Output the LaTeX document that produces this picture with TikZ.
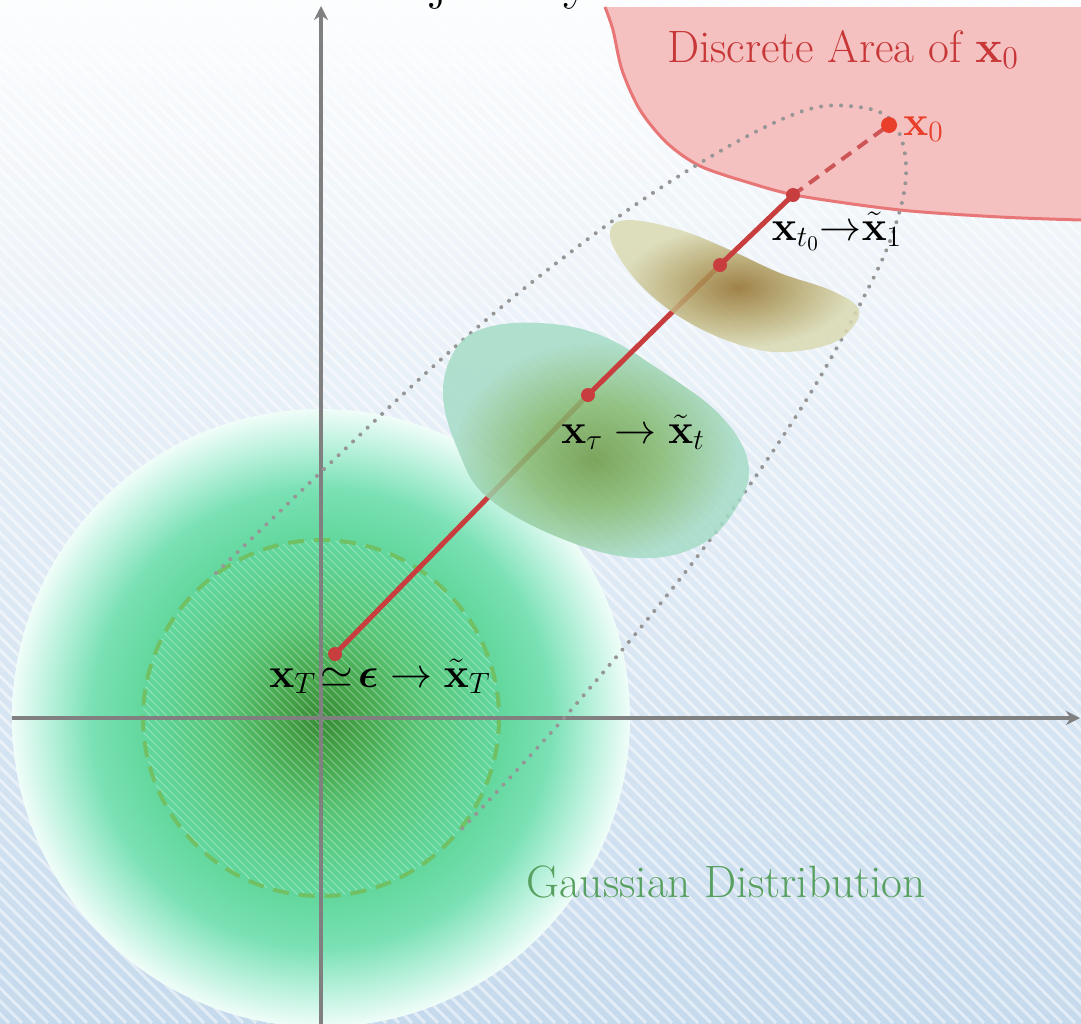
\RequirePackage{fix-cm}
\documentclass[tikz,border=0pt]{standalone}
\usepackage{amsmath,amssymb}
\usetikzlibrary{arrows.meta}
\definecolor{bgtop}{RGB}{252,253,254}
\definecolor{bgbot}{RGB}{198,218,237}
\definecolor{pinkfill}{RGB}{245,192,192}
\definecolor{pinkline}{RGB}{232,118,118}
\definecolor{discred}{RGB}{200,55,55}
\definecolor{gaugreen}{RGB}{88,160,95}
\definecolor{axisgray}{RGB}{128,128,128}
\definecolor{dotgray}{RGB}{150,150,150}
\definecolor{trajred}{RGB}{200,62,62}
\definecolor{trajdash}{RGB}{205,85,85}
\definecolor{xzero}{RGB}{232,62,42}
\definecolor{gdash}{RGB}{112,192,100}
\definecolor{g0}{RGB}{55,140,55}
\definecolor{g1}{RGB}{70,165,75}
\definecolor{g2}{RGB}{88,198,118}
\definecolor{g3}{RGB}{96,214,155}
\definecolor{g4}{RGB}{122,225,180}
\definecolor{g5}{RGB}{188,242,222}
\definecolor{g6}{RGB}{240,253,249}
\definecolor{gb0}{RGB}{106,152,66}
\definecolor{gb1}{RGB}{132,186,112}
\definecolor{gb2}{RGB}{165,220,198}
\definecolor{ob0}{RGB}{146,110,42}
\definecolor{ob1}{RGB}{180,164,104}
\definecolor{ob2}{RGB}{218,218,178}
\pgfdeclareradialshading{gauss}{\pgfpoint{0bp}{0bp}}{color(0bp)=(g0); color(3.2bp)=(g1); color(8bp)=(g2); color(14bp)=(g3); color(18.6bp)=(g4); color(22.2bp)=(g5); color(25bp)=(g6); color(50bp)=(g6)}
\pgfdeclareradialshading{greenblob}{\pgfpoint{-0.5bp}{-4bp}}{color(0bp)=(gb0); color(11bp)=(gb1); color(23bp)=(gb2); color(25bp)=(gb2); color(50bp)=(gb2)}
\pgfdeclareradialshading{oliveblob}{\pgfpoint{0.5bp}{-0.5bp}}{color(0bp)=(ob0); color(11bp)=(ob1); color(23bp)=(ob2); color(25bp)=(ob2); color(50bp)=(ob2)}
\tikzset{
  lab/.style={inner sep=0pt, font=\fontsize{21}{25}\selectfont},
  textlab/.style={inner sep=0pt, font=\fontsize{22.7}{27}\selectfont},
  axisline/.style={axisgray, line width=2pt, -{Stealth[length=7pt,width=7pt]}},
  trajline/.style={trajred, line width=2.5pt},
  tube/.style={dotgray, line width=2pt, line cap=round, dash pattern=on 0pt off 5pt},
  trajdot/.style={trajred},
}
\begin{document}
\begin{tikzpicture}[x=0.5pt,y=-0.5pt]
\useasboundingbox (0,0) rectangle (1081,1023);
% background
\shade[top color=bgtop,bottom color=bgbot] (0,0) rectangle (1081,1023);
\begin{scope}
  \clip (0,0) rectangle (1081,1023);
  \foreach \i in {-1040,-1027,...,1081} \draw[white,opacity=0.5,line width=1.5pt] (\i,0) -- ++(1023,1023);
\end{scope}
% clipped title (only its descenders fall inside the picture)
\node[anchor=base west, inner sep=0pt, font=\fontsize{29.3}{30}\selectfont] (title) at (347,-3) {Trajectory};
% discrete area
\fill[pinkfill] plot[smooth] coordinates {(605,7) (613,30) (622,70) (640,110) (667,143) (700,166) (750,183) (800,196) (900,210) (1000,217) (1081,220)} -- (1081,7) -- cycle;
\draw[pinkline, line width=1.5pt] plot[smooth] coordinates {(605,7) (613,30) (622,70) (640,110) (667,143) (700,166) (750,183) (800,196) (900,210) (1000,217) (1081,220)};
\node[textlab, anchor=base, text=discred] (dlab) at (843,62) {Discrete Area of $\mathbf{x}_0$};
% gaussian
\shade[shading=gauss] (321,718) circle[radius=309];
\begin{scope}
  \clip (321,718) circle[radius=178];
  \foreach \i in {-230,-222,...,510} \draw[white,opacity=0.35,line width=0.5pt] (\i,535) -- ++(370,370);
\end{scope}
\draw[gdash, line width=2pt, dash pattern=on 8pt off 5pt] (321,718) circle[radius=178];
\node[textlab, anchor=base, text=gaugreen] (glab) at (726,897) {Gaussian Distribution};
% axes
\coordinate (xs) at (12,718);
\coordinate (xe) at (1080,718);
\coordinate (ys) at (321,1030);
\coordinate (ye) at (321,6);
\draw[axisline] (xs) -- (xe);
\draw[axisline] (ys) -- (ye);
% dotted tube
\draw[tube] plot[smooth, tension=0.6] coordinates {(216,573) (437,363) (580,245) (700,163) (800,112) (858,107) (893,122) (906,165) (898,217) (870,285) (800,410) (697,557) (571,710) (461,830)};
% trajectory
\coordinate (pT) at (335,654);
\coordinate (pTau) at (588,395);
\coordinate (pt) at (720,265);
\coordinate (p1) at (793,195);
\coordinate (p0) at (889,125);
\draw[trajline] (pT) -- (pTau);
\shade[shading=greenblob, fill opacity=0.85] plot[smooth cycle, tension=0.65] coordinates {(443,395) (455,350) (485,328) (540,323) (600,335) (660,370) (720,415) (748,462) (738,505) (700,545) (637,558) (560,538) (487,497) (458,450)};
\draw[trajline] (pTau) -- (pt);
\shade[shading=oliveblob, fill opacity=0.85] plot[smooth cycle, tension=0.65] coordinates {(610,232) (628,220) (680,230) (730,250) (780,273) (830,290) (858,308) (852,328) (830,344) (787,352) (747,347) (697,327) (653,297) (622,262)};
\draw[trajline] (pt) -- (p1);
\draw[trajdash, line width=2pt, dash pattern=on 6pt off 4pt] (p1) -- (p0);
\fill[trajdot] (pT) circle[radius=7];
\fill[trajdot] (pTau) circle[radius=7];
\fill[trajdot] (pt) circle[radius=7];
\fill[trajdot] (p1) circle[radius=7];
\fill[xzero] (p0) circle[radius=8];
% labels
\node[lab, anchor=base] (lT) at (380,687) {$\mathbf{x}_T\!\simeq\!\boldsymbol{\epsilon}\rightarrow\tilde{\mathbf{x}}_T$};
\node[lab, anchor=base] (ltau) at (633,443) {$\mathbf{x}_\tau\rightarrow\tilde{\mathbf{x}}_t$};
\node[lab, anchor=base] (l1) at (837,240) {$\mathbf{x}_{t_0}{\rightarrow}\tilde{\mathbf{x}}_1$};
\node[lab, anchor=base west, text=xzero] (l0) at (903,135) {$\mathbf{x}_0$};
\end{tikzpicture}
\end{document}
